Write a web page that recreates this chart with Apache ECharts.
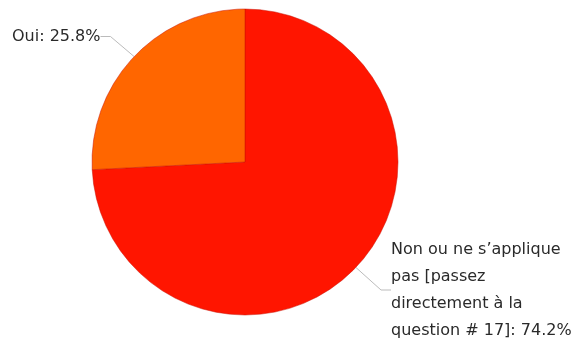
<!DOCTYPE html>
<html>
<head>
<meta charset="utf-8">
<script src="https://cdn.jsdelivr.net/npm/echarts@6/dist/echarts.min.js"></script>
<style>
  html, body { margin: 0; padding: 0; background: #fff; }
  #chart { width: 574px; height: 341px; }
</style>
</head>
<body>
<div id="chart"></div>
<script>
// Survey answers and their shares (percent)
const categories = ['Non ou ne s\u2019applique pas [passez directement à la question # 17]', 'Oui'];
const values = [74.2, 25.8];
const labelTexts = ['Non ou ne s\u2019applique\npas [passez\ndirectement à la\nquestion # 17]: 74.2%', 'Oui: 25.8%'];
const colors = ['#ff1500', '#ff6600'];

const chart = echarts.init(document.getElementById('chart'));

const data = categories.map((name, i) => ({
  name: name,
  value: values[i],
  itemStyle: { color: colors[i] },
  label: { formatter: labelTexts[i] }
}));

// where each label block sits (top-left corner), slice order
const labelSpots = [
  { x: 391, y: 236 },
  { x: 12, y: 23 }
];

chart.setOption({
  animation: false,
  series: [{
    type: 'pie',
    center: [245, 162],
    radius: 153,
    startAngle: 90,
    clockwise: true,
    data: data,
    itemStyle: { borderColor: '#c81000', borderWidth: 0.5 },
    label: {
      show: true,
      color: '#2a2a2a',
      fontFamily: 'DejaVu Sans',
      fontSize: 16,
      lineHeight: 27,
      align: 'left',
      verticalAlign: 'top'
    },
    labelLine: {
      show: true,
      length: 10,
      length2: 10,
      lineStyle: { color: '#bbb', width: 1 }
    },
    labelLayout: function (params) {
      const s = labelSpots[params.dataIndex];
      return { x: s.x, y: s.y, align: 'left', verticalAlign: 'top' };
    }
  }]
});
</script>
</body>
</html>
